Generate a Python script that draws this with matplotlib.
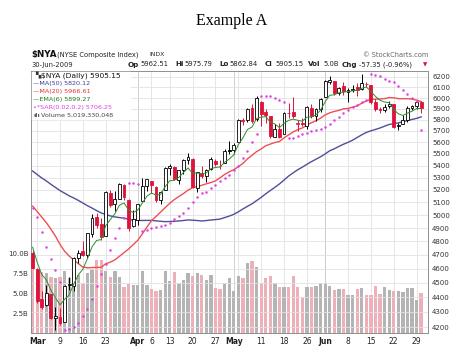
import numpy as np
import pandas as pd
import matplotlib
matplotlib.use("Agg")
import matplotlib.pyplot as plt
from matplotlib.patches import Rectangle
from matplotlib.ticker import FixedLocator, NullLocator

# closes before the window (Dec 15 2008 - Feb 26 2009), only used to seed the averages
pre_close = [5533, 5817, 5761, 5639, 5656, 5552, 5498, 5530, 5560, 5538, 5673, 5757,
             5917, 5889, 5935, 5748, 5768, 5645, 5509, 5518, 5334, 5341, 5381, 5089,
             5310, 5230, 5258, 5287, 5345, 5524, 5341, 5211,
             5209, 5291, 5251, 5329, 5472, 5480, 5203, 5244, 5253, 5201, 4956, 4951,
             4892, 4828, 4661, 4848, 4796, 4720]

# daily OHLC, Feb 27 - Jun 30 2009
opens = [4713, 4600, 4390, 4345, 4420, 4262, 4265, 4232, 4485, 4480,
         4680, 4725, 4695, 4855, 4985, 4930, 4840, 5175, 5085, 5130,
         5240, 5120, 4915, 4960, 5110, 5230, 5270, 5225, 5120, 5200,
         5380, 5385, 5280, 5360, 5450, 5460, 5215, 5340, 5310, 5370,
         5440, 5395, 5420, 5535, 5530, 5600, 5795, 5800, 5910, 5810,
         5960, 5870, 5830, 5650, 5715, 5670, 5865, 5870, 5760, 5775,
         5740, 5910, 5830, 5900, 6005, 6150, 6160, 6045, 6110, 6060,
         6075, 6100, 6085, 6130, 6120, 5965, 5900, 5890, 5930, 5940,
         5745, 5765, 5795, 5905, 5925, 5962.51]
highs = [4730, 4605, 4440, 4485, 4425, 4330, 4325, 4485, 4540, 4685,
         4735, 4800, 4865, 5010, 5020, 4975, 5190, 5200, 5190, 5260,
         5245, 5125, 5040, 5090, 5300, 5290, 5275, 5230, 5190, 5390,
         5410, 5400, 5365, 5460, 5510, 5465, 5350, 5400, 5370, 5475,
         5460, 5450, 5545, 5610, 5590, 5805, 5815, 5910, 5940, 6020,
         5970, 5900, 5835, 5760, 5770, 5870, 5950, 6010, 5800, 5815,
         5925, 5945, 5905, 6000, 6175, 6210, 6165, 6105, 6150, 6090,
         6120, 6140, 6225, 6150, 6125, 5990, 5920, 5940, 5975, 5945,
         5775, 5840, 5925, 5935, 5965, 5975.79]
lows = [4595, 4360, 4320, 4340, 4250, 4180, 4210, 4232, 4450, 4440,
        4640, 4690, 4680, 4830, 4900, 4810, 4840, 5065, 5030, 5130,
        5120, 4880, 4910, 4920, 5110, 5195, 5175, 5105, 5090, 5200,
        5325, 5280, 5245, 5330, 5410, 5215, 5180, 5300, 5265, 5360,
        5395, 5370, 5420, 5500, 5500, 5600, 5750, 5780, 5770, 5790,
        5740, 5770, 5640, 5645, 5635, 5670, 5815, 5820, 5700, 5740,
        5720, 5820, 5790, 5870, 6005, 6130, 6030, 6030, 6030, 5960,
        6060, 6020, 6080, 6100, 5940, 5880, 5860, 5870, 5910, 5725,
        5706.25, 5760, 5780, 5885, 5900, 5862.84]
closes = [4602, 4373, 4335, 4430, 4262, 4270, 4226, 4480, 4490, 4680,
          4715, 4700, 4860, 4975, 4925, 4830, 5183, 5080, 5125, 5245,
          5140, 4900, 4970, 5085, 5235, 5285, 5240, 5115, 5180, 5381,
          5395, 5290, 5360, 5445, 5476, 5225, 5345, 5310, 5365, 5460,
          5410, 5400, 5525, 5525, 5580, 5800, 5785, 5900, 5790, 6003,
          5855, 5840, 5655, 5720, 5650, 5864, 5860, 5835, 5770, 5765,
          5915, 5830, 5895, 5995, 6160, 6175, 6045, 6095, 6070, 6075,
          6085, 6080, 6145, 6135, 5960, 5895, 5890, 5920, 5945, 5738,
          5755, 5800, 5912, 5925, 5962.5, 5905.15]
# volume in billions of shares
volume = [8.3, 8.0, 7.6, 7.5, 7.0, 6.9, 7.0, 7.7, 6.9, 7.5,
          7.3, 6.2, 7.5, 8.0, 9.1, 9.1, 7.7, 7.0, 7.8, 7.0,
          5.8, 6.1, 6.0, 6.0, 7.7, 6.0, 5.5, 5.3, 5.4, 7.7,
          6.5, 7.6, 6.2, 6.6, 7.5, 7.1, 7.5, 7.3, 6.6, 7.3,
          5.6, 5.5, 6.2, 6.9, 5.3, 7.1, 6.9, 8.7, 9.0, 8.3,
          6.2, 6.9, 7.1, 6.2, 5.7, 5.8, 5.8, 7.1, 5.7, 4.5,
          5.8, 5.8, 5.9, 6.2, 6.3, 5.9, 5.4, 5.5, 5.5, 4.7,
          4.7, 5.5, 5.6, 4.7, 4.8, 5.9, 4.9, 5.7, 5.4, 5.3,
          5.2, 5.1, 5.6, 5.6, 4.1, 5.019330048]

prev_close = 4720  # Feb 26
sar_start = 5055   # SAR value on the first day (in a downtrend)
sar_af_start = 0.16

tick_idx = [1, 6, 11, 16, 23, 26, 30, 35, 40, 44, 50, 55, 60, 64, 69, 74, 79, 84]
tick_lab = ["Mar", "9", "16", "23", "Apr", "6", "13", "20", "27", "May",
            "11", "18", "26", "Jun", "8", "15", "22", "29"]
week_idx = [1, 6, 11, 16, 21, 26, 30, 35, 40, 45, 50, 55, 60, 64, 69, 74, 79, 84]
month_idx = [23, 44, 64]
price_ticks = list(range(4200, 6201, 100))
vol_ticks = [2.5, 5.0, 7.5, 10.0]


def parabolic_sar(high, low, s0, af0, step=0.02, cap=0.2):
    n = len(high)
    out = np.zeros(n)
    out[0] = s0
    up = False
    ep = low[0]
    af = af0
    for i in range(1, n):
        s = out[i-1] + af * (ep - out[i-1])
        j = max(i - 2, 0)
        if up:
            s = min(s, low[i-1], low[j])
            if low[i] < s:
                up, s, ep, af = False, ep, low[i], step
            elif high[i] > ep:
                ep = high[i]
                af = min(af + step, cap)
        else:
            s = max(s, high[i-1], high[j])
            if high[i] > s:
                up, s, ep, af = True, ep, high[i], step
            elif low[i] < ep:
                ep = low[i]
                af = min(af + step, cap)
        out[i] = s
    return out


n = len(closes)
x = np.arange(n)
o = np.array(opens, float)
h = np.array(highs, float)
l = np.array(lows, float)
c = np.array(closes, float)
allc = pd.Series(pre_close + closes, dtype=float)
ma50 = allc.rolling(50).mean().values[-n:]
ma20 = allc.rolling(20).mean().values[-n:]
ema6 = allc.ewm(span=6, adjust=False).mean().values[-n:]
sar = parabolic_sar(h, l, sar_start, sar_af_start)

pc = np.concatenate([[prev_close], c[:-1]])
down = c < pc
RED = "#dc143c"
col = np.where(down, RED, "black")
face = [cc if cl < op else "white" for cc, cl, op in zip(col, c, o)]

W, H = 464, 361
fig = plt.figure(figsize=(W / 100, H / 100), dpi=100)
fig.patch.set_facecolor("white")

L, R, T, B = 31, 428, 71, 333
axv = fig.add_axes([L / W, 1 - B / H, (R - L) / W, (B - T) / H])
ax = axv.twinx()

# volume
vcol = np.where(down, "#eeb0b8", "#b4b4b4")
axv.bar(x, volume, width=0.72, color=vcol, edgecolor="none", zorder=2)
axv.set_ylim(0, 32.75)
axv.set_xlim(-0.35, 86.5)
for k in week_idx:
    axv.axvline(k, color="#e2e2e2", lw=0.6, zorder=1)
for k in month_idx:
    axv.axvline(k, color="#c8c8c8", lw=0.6, zorder=1)
axv.set_yticks(vol_ticks)
axv.set_yticklabels(["%.1fB" % v for v in vol_ticks])
axv.tick_params(axis="y", length=0, pad=2, labelsize=5, colors="#333333")
axv.set_xticks(tick_idx)
axv.set_xticklabels(tick_lab)
axv.tick_params(axis="x", length=0, pad=3, labelsize=5.5, colors="#222222")
for t in axv.get_xticklabels():
    if t.get_text() in ("Mar", "Apr", "May", "Jun"):
        t.set_fontweight("bold")

# price
ax.set_yscale("log")
ax.set_ylim(4161, 6258)
ax.yaxis.set_major_locator(FixedLocator(price_ticks))
ax.yaxis.set_minor_locator(NullLocator())
ax.set_yticklabels([str(p) for p in price_ticks])
ax.tick_params(axis="y", length=0, pad=3, labelsize=5, colors="#333333")
ax.grid(axis="y", color="#e2e2e2", lw=0.6)
ax.set_axisbelow(True)

ax.plot(x, ma50, color="#4f4f9a", lw=1.0, zorder=3)
ax.plot(x, ma20, color="#f05050", lw=1.0, zorder=3)
ax.plot(x, ema6, color="#2e8b2e", lw=0.7, zorder=5)
ax.vlines(x, l, h, colors=col, lw=0.7, zorder=4)
ax.bar(x, np.abs(c - o), bottom=np.minimum(o, c), width=0.62,
       color=face, edgecolor=col, linewidth=0.6, zorder=4)
ax.plot(x, sar, "o", color="#e040e0", ms=1.8, mec="none", zorder=6)

for a in (ax, axv):
    for s in a.spines.values():
        s.set_color("#909090")
        s.set_linewidth(0.6)

# legend block
fig.add_artist(Rectangle((32 / W, 1 - 119 / H), 98 / W, 47 / H,
                         transform=fig.transFigure, color="white", zorder=1))


def ftext(px, py, s, **kw):
    fig.text(px / W, 1 - py / H, s, va="center", **kw)


ftext(35, 75.5, "▚", size=5, color="#333333")
ftext(41, 75.5, r"\$NYA (Daily) 5905.15", size=5.4, color="#111111")
ftext(33, 83.5, "—MA(50) 5820.12", size=4.6, color="#3c3c9a")
ftext(33, 91.5, "—MA(20) 5966.61", size=4.6, color="#e83030")
ftext(33, 99.5, "—EMA(6) 5899.27", size=4.6, color="#1e7a1e")
ftext(33, 107.5, "•*SAR(0.02,0.2) 5706.25", size=4.6, color="#e040e0")
ftext(33, 115, "ılı", size=4.6, color="#555555", weight="bold")
ftext(41, 115, "Volume 5,019,330,048", size=4.6, color="#444444")

# header
fig.text(0.5, 1 - 21 / H, "Example A", ha="center", va="center",
         family="Liberation Serif", size=11.5)
ftext(31, 54.5, r"\$NYA", size=6.3, weight="bold", color="#111111")
ftext(57, 55, "(NYSE Composite Index)", size=4.9, color="#222222")
ftext(149, 55, "INDX", size=4.4, color="#222222")
ftext(428, 55, "© StockCharts.com", size=4.8, color="#666666", ha="right")
ftext(31, 64.5, "30-Jun-2009", size=4.9, color="#222222")
head = [(128, "Op", True), (140, "5962.51", False), (175, "Hi", True),
        (184, "5975.79", False), (219, "Lo", True), (229, "5862.84", False),
        (265, "Cl", True), (275, "5905.15", False), (308, "Vol", True),
        (323, "5.0B", False), (342, "Chg", True), (359, "-57.35 (-0.96%)", False)]
for px, s, b in head:
    ftext(px, 64.5, s, size=5.1 if b else 4.9,
          weight="bold" if b else "normal", color="#222222")
ftext(423, 64.5, "▼", size=4, color=RED)

fig.savefig("out.png", dpi=100, facecolor="white")
